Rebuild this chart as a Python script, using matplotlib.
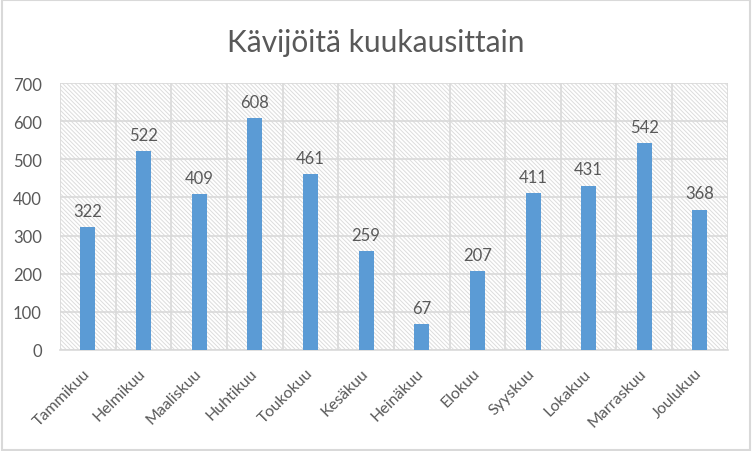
import matplotlib
matplotlib.use("Agg")
import matplotlib.pyplot as plt
from matplotlib.patches import Rectangle
import numpy as np

months = ["Tammikuu", "Helmikuu", "Maaliskuu", "Huhtikuu", "Toukokuu", "Kesäkuu",
          "Heinäkuu", "Elokuu", "Syyskuu", "Lokakuu", "Marraskuu", "Joulukuu"]
visitors = [322, 522, 409, 608, 461, 259, 67, 207, 411, 431, 542, 368]
yticks = [0, 100, 200, 300, 400, 500, 600, 700]
title = "Kävijöitä kuukausittain"

plt.rcParams['font.family'] = ['Lato', 'DejaVu Sans']
plt.rcParams['hatch.linewidth'] = 0.7

txt = '#595959'
grid = '#d9d9d9'

fig = plt.figure(figsize=(7.52, 4.52), dpi=100)
fig.patch.set_facecolor('white')
fig.add_artist(Rectangle((0.002, 0.003), 0.995, 0.994, transform=fig.transFigure,
                         fill=False, edgecolor=grid, linewidth=1.5))

ax = fig.add_axes([0.0798, 0.2235, 0.888, 0.5905])
ax.set_facecolor('white')
ax.add_patch(Rectangle((0, 0), 1, 1, transform=ax.transAxes, facecolor='white',
                       edgecolor='#dcdcdc', hatch='\\' * 8, linewidth=0, zorder=0))

x = np.arange(len(months))
ax.bar(x, visitors, width=0.27, color='#5b9bd5', zorder=3)
for xi, v in zip(x, visitors):
    ax.annotate(str(v), (xi, v), xytext=(0, 6), textcoords='offset points',
                ha='center', va='bottom', fontsize=12, color=txt, zorder=4)

ax.set_xlim(-0.5, len(months) - 0.5)
ax.set_ylim(0, 700)
ax.set_yticks(yticks)
ax.set_yticklabels([str(t) for t in yticks])
ax.set_xticks(x)
ax.set_xticklabels(months, rotation=45, ha='right', va='center', rotation_mode='anchor')
ax.set_xticks(np.arange(-0.5, len(months), 1), minor=True)
ax.tick_params(axis='both', which='both', length=0, colors=txt, labelsize=12)
ax.tick_params(axis='x', pad=15, labelsize=11.5)
ax.tick_params(axis='y', pad=13)
ax.grid(True, axis='y', which='major', color=grid, linewidth=1.2, zorder=1)
ax.grid(True, axis='x', which='minor', color=grid, linewidth=1.2, zorder=1)
ax.set_axisbelow(True)
for s in ax.spines.values():
    s.set_visible(False)
ax.spines['bottom'].set_visible(True)
ax.spines['bottom'].set_color(grid)
ax.spines['bottom'].set_linewidth(1.2)

fig.text(0.5, 0.905, title, ha='center', va='center', fontsize=21.5, color=txt)

fig.savefig('out.png', dpi=100, facecolor='white')
